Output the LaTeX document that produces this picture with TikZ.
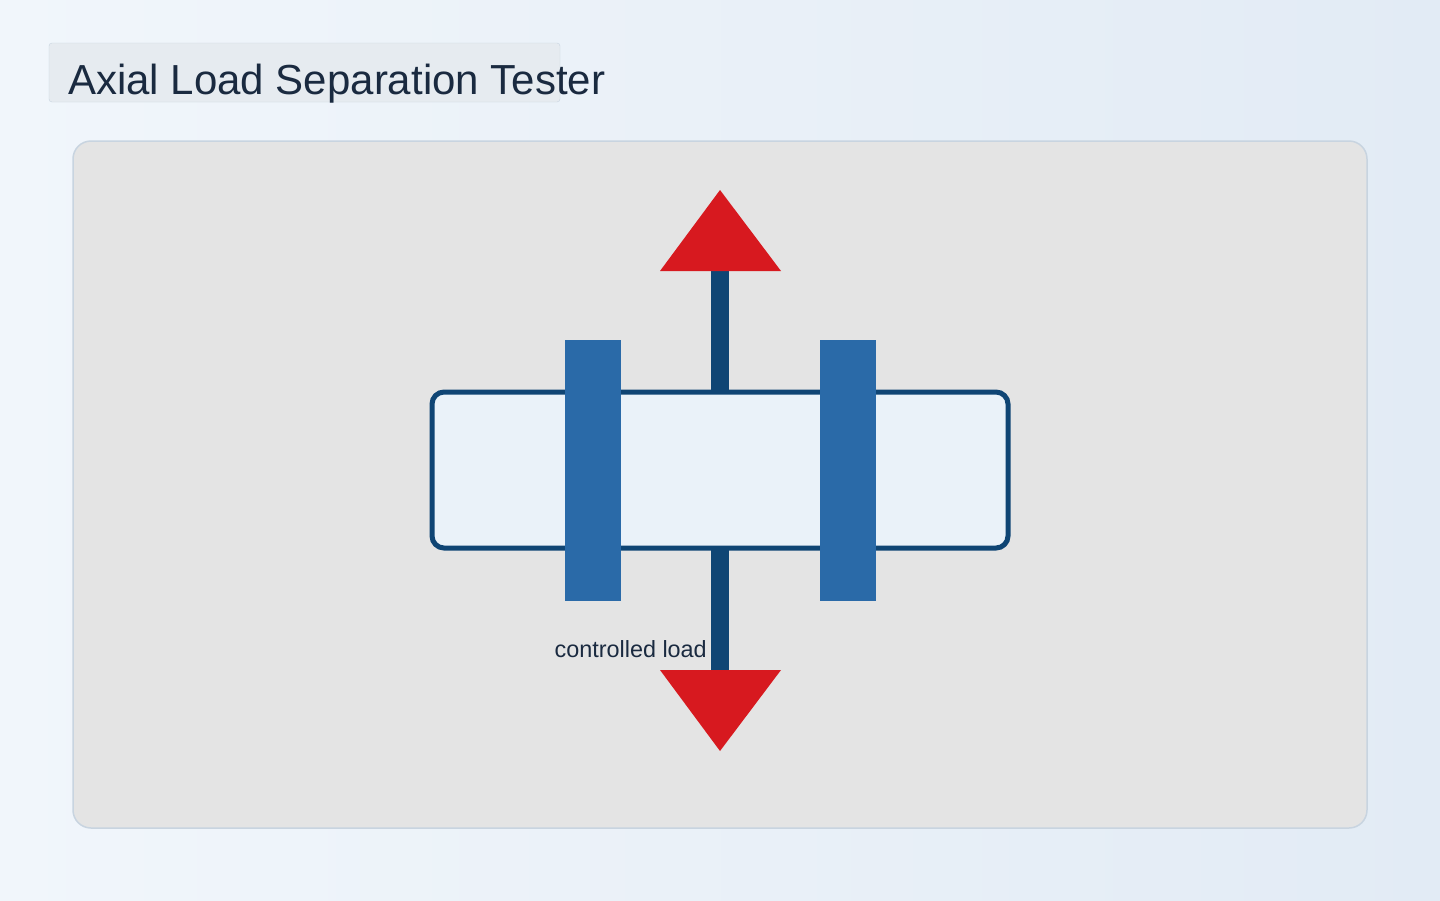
\documentclass[tikz,border=0pt]{standalone}
\usepackage{fontspec}
\setmainfont{Liberation Sans}
\begin{document}
\begin{tikzpicture}[x=1pt,y=-1pt,
  bar/.style={fill=barc,draw=none},
  arrowhead/.style={fill=redc,draw=none}]
\definecolor{bgl}{HTML}{F1F6FB}\definecolor{bgr}{HTML}{E2EBF5}
\definecolor{stemc}{HTML}{0F4574}\definecolor{barc}{HTML}{2A6AA8}
\definecolor{redc}{HTML}{D7191F}\definecolor{txt}{HTML}{1A2A40}
\definecolor{specf}{HTML}{EAF2F9}\definecolor{panelb}{HTML}{C8D4E0}
\definecolor{titlef}{HTML}{E6EBF0}
\useasboundingbox (0,0) rectangle (1440,900);
\shade[left color=bgl,right color=bgr] (0,0) rectangle (1440,900);
\node[draw=panelb,fill=titlef,rounded corners=3pt,minimum width=511pt,minimum height=59pt,inner sep=0pt] (titlebox) at (304.5,72.5) {};
\node[anchor=base west,text=txt,font=\fontsize{42}{48}\selectfont,inner sep=0pt] (title) at (68,94) {Axial Load Separation Tester};
\node[draw=panelb,line width=1.5pt,fill=black!10.5,rounded corners=18pt,minimum width=1294pt,minimum height=687pt,inner sep=0pt] (panel) at (720,484.5) {};
\draw[stemc,line width=18pt] (720,392) -- (720,265);
\draw[stemc,line width=18pt] (720,548) -- (720,675);
\node[draw=stemc,line width=5pt,fill=specf,rounded corners=12pt,minimum width=576pt,minimum height=156pt,inner sep=0pt] (specimen) at (720,470) {};
\node[bar,minimum width=56pt,minimum height=261pt,inner sep=0pt] (gripL) at (593,470.5) {};
\node[bar,minimum width=56pt,minimum height=261pt,inner sep=0pt] (gripR) at (848,470.5) {};
\fill[arrowhead] (660,271) -- (781,271) -- (720,190) -- cycle;
\fill[arrowhead] (660,670) -- (781,670) -- (720,751) -- cycle;
\node[anchor=base east,text=txt,font=\fontsize{23.4}{28}\selectfont,inner sep=0pt] (lbl) at (707,657) {controlled load};
\end{tikzpicture}
\end{document}
